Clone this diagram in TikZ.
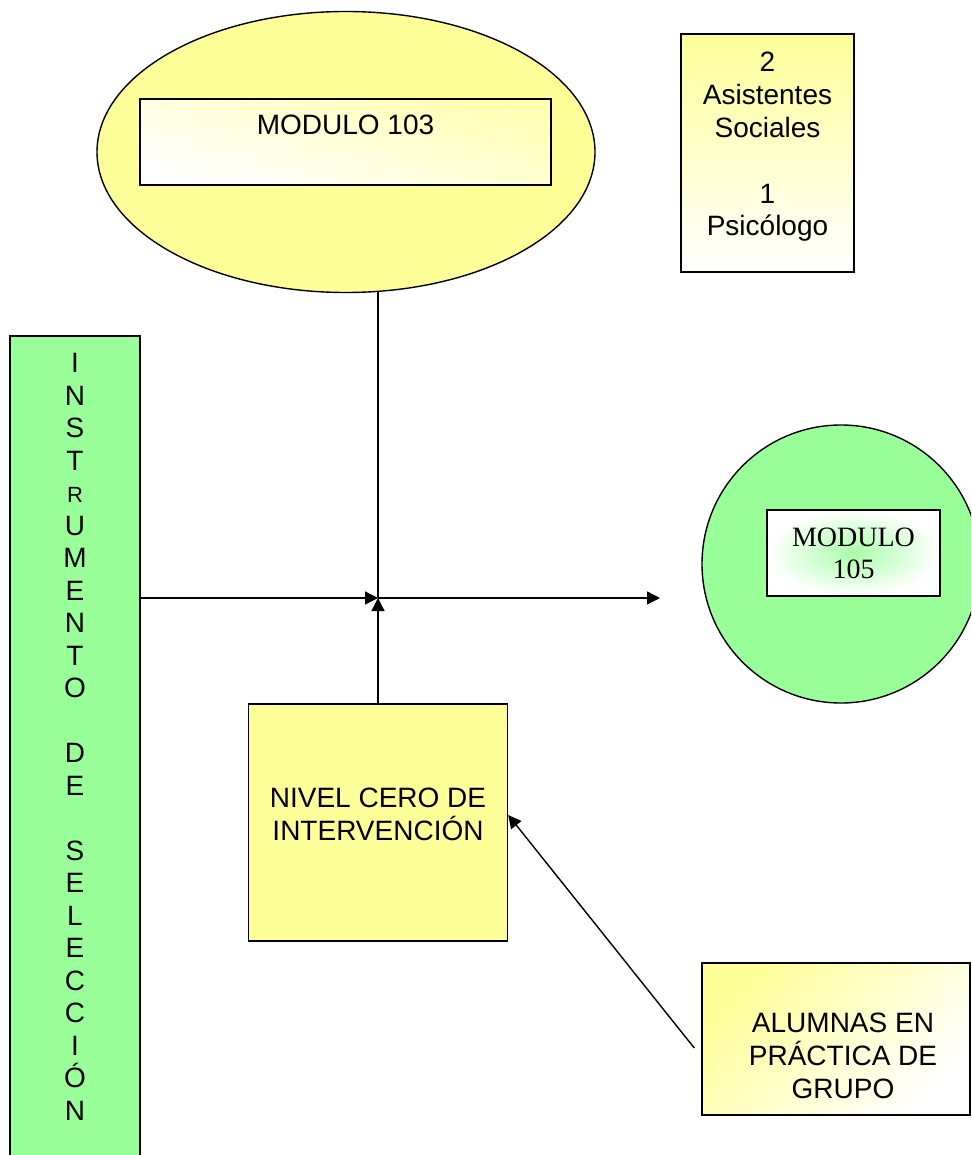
\documentclass[tikz,border=0pt]{standalone}
\usepackage{fontspec}
\setmainfont{Liberation Sans}
\newfontfamily\serifface{Liberation Serif}
\usetikzlibrary{positioning, shapes.geometric, arrows.meta}
\definecolor{ylw}{HTML}{FFFF99}
\definecolor{grn}{HTML}{99FF99}
\tikzset{
	every node/.append style={
		font={\fontsize{14}{16.4}\selectfont},
	},
	frame/.append style={
		draw,
		line width=0.7pt,
		align = center,
		inner sep=0mm,
	},
	txt/.append style={
		align = center,
		inner sep=0mm,
	},
	conn/.append style={
		line width=0.7pt,
		-{Triangle[length=6.5pt, width=6.5pt]},
	},
}
\begin{document}
\begin{tikzpicture}[x=0.5pt, y=-0.5pt]
\useasboundingbox (0,0) rectangle (971,1155);
\clip (0,0) rectangle (971,1155);

\node(m103)[frame, ellipse, fill=ylw, minimum width=249pt, minimum height=140.5pt] at (346,152) {};
\node(m103box)[frame, top color=ylw!75!white, bottom color=white, shading angle=-15, minimum width=205.5pt, minimum height=43pt, text depth=17pt] at (345.5,142) {MODULO 103};

\node(staff)[frame, top color=ylw, bottom color=white, minimum width=86.5pt, minimum height=119pt] at (767.5,153) {};
\node(stafflbl)[txt] at ([yshift=3pt]staff.center) {2\\Asistentes\\Sociales\\[16.4pt]1\\Psicólogo};

\node(instr)[frame, fill=grn, minimum width=65pt, minimum height=419.5pt] at (75,755.5) {};
\node(instrlbl)[txt, below = 9pt of instr.north, font={\fontsize{14}{16.25}\selectfont}] {I\\N\\S\\T\\{\fontsize{11}{12}\selectfont R}\\U\\M\\E\\N\\T\\O\\[16.25pt]D\\E\\[16.25pt]S\\E\\L\\E\\C\\C\\I\\Ó\\N};

\node(m105)[frame, circle, fill=grn, minimum size=139pt] at (841,564) {};
\node(m105box)[frame, shading=radial, inner color=grn!85!white, outer color=white, minimum width=86.5pt, minimum height=43pt, font={\serifface\fontsize{14}{16}\selectfont}] at (853.5,553) {MODULO\\105};

\node(nivel)[frame, fill=ylw, minimum width=129.5pt, minimum height=118.5pt] at (378,822.5) {};
\node(nivellbl)[txt] at ([yshift=4.25pt]nivel.center) {NIVEL CERO DE\\INTERVENCIÓN};

\node(alum)[frame, top color=ylw, bottom color=white, shading angle=45, minimum width=134pt, minimum height=76pt] at (836,1039) {};
\node(alumlbl)[txt] at ([shift={(3.5pt,-8.5pt)}]alum.center) {ALUMNAS EN\\PRÁCTICA DE\\GRUPO};

\coordinate(jct) at (378,598);
\coordinate(m105in) at (660,598);

\draw[line width=0.7pt, shorten <=-1pt] (jct |- m103.south) -- (jct);
\draw[conn] (instr.east |- jct) -- (jct);
\draw[conn] (nivel.north) -- (jct);
\draw[conn] (jct) -- (m105in);
\draw[conn] ([shift={(-3.5pt,-4.5pt)}]alum.west) -- ([yshift=3.75pt]nivel.east);

\end{tikzpicture}
\end{document}
